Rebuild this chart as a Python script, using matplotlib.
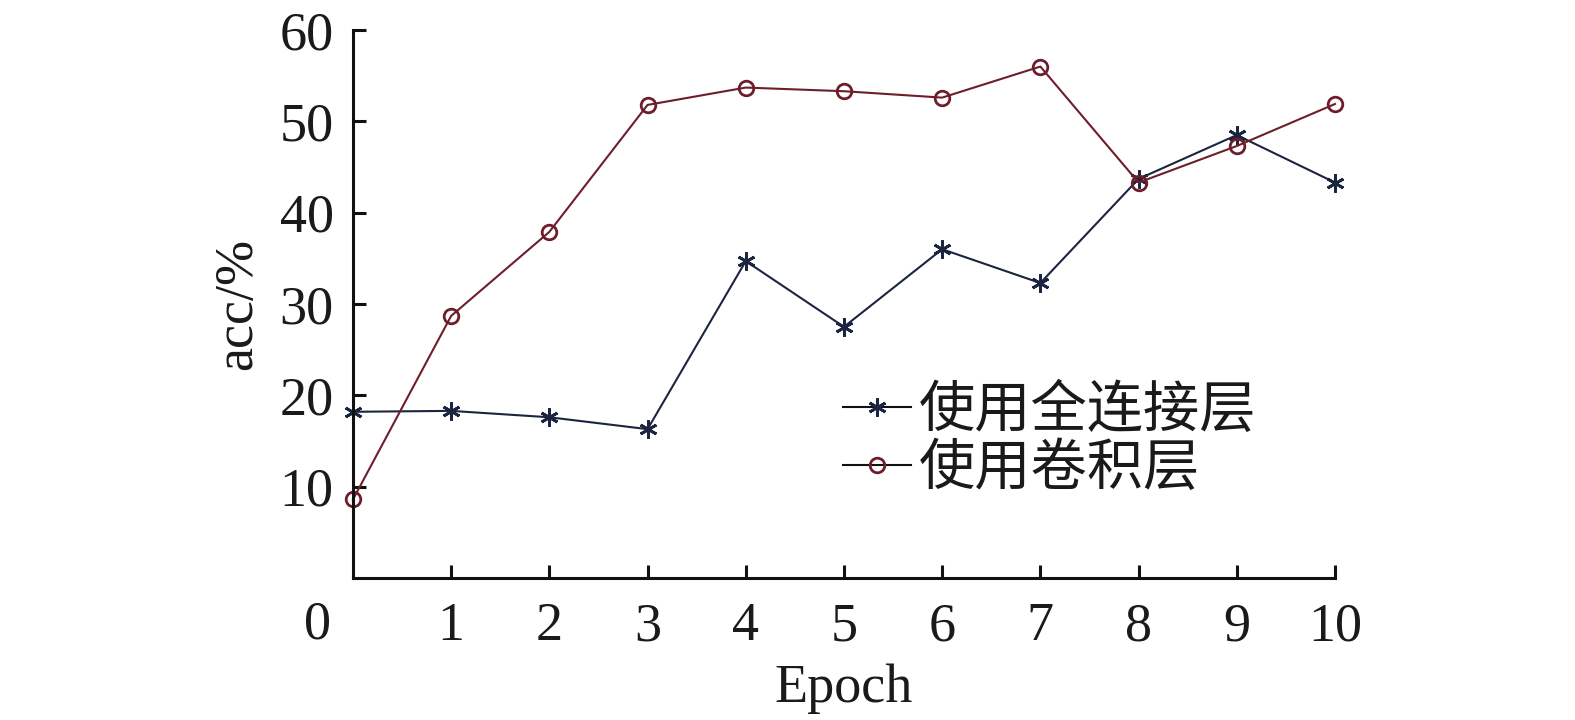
import matplotlib
matplotlib.use("Agg")
import matplotlib.pyplot as plt

epochs = [0, 1, 2, 3, 4, 5, 6, 7, 8, 9, 10]
fc_acc = [18.2, 18.3, 17.6, 16.3, 34.7, 27.5, 36.0, 32.3, 43.7, 48.5, 43.3]
conv_acc = [8.6, 28.7, 37.9, 51.8, 53.7, 53.3, 52.6, 56.0, 43.3, 47.3, 51.9]
labels = ["使用全连接层", "使用卷积层"]
xticks = [1, 2, 3, 4, 5, 6, 7, 8, 9, 10]
yticks = [10, 20, 30, 40, 50, 60]

serif = ["Liberation Serif", "DejaVu Serif"]
cjk = ["Noto Sans CJK SC", "DejaVu Sans"]
FS = 39

fig = plt.figure(figsize=(15.75, 7.2), dpi=100)
ax = fig.add_axes([0.2241, 0.1972, 0.8476 - 0.2241, 0.9583 - 0.1972])

c1 = "#1c2540"
c2 = "#6e1e2a"
ax.plot(epochs, fc_acc, color=c1, lw=1.5, marker=(6, 2, 0), ms=13, mew=2.0,
        label=labels[0], clip_on=False)
ax.plot(epochs, conv_acc, color=c2, lw=1.5, marker="o", ms=10.5, mfc="none",
        mec=c2, mew=2.0, label=labels[1], clip_on=False)

ax.set_xlim(0, 10)
ax.set_ylim(0, 60)
ax.set_xticks(xticks)
ax.set_yticks(yticks)
for s in ["top", "right"]:
    ax.spines[s].set_visible(False)
for s in ["left", "bottom"]:
    ax.spines[s].set_linewidth(2.2)
    ax.spines[s].set_color("#111111")
ax.tick_params(direction="in", length=9.5, width=2.2, color="#111111")
ax.tick_params(axis="x", pad=17)
ax.tick_params(axis="y", pad=14)
for lab in ax.get_xticklabels() + ax.get_yticklabels():
    lab.set_family(serif)
    lab.set_fontsize(FS)
    lab.set_color("#1a1a1a")

ax.annotate("0", xy=(0, 0), xycoords="data", xytext=(-35, -47),
            textcoords="offset pixels", ha="center", va="center",
            fontsize=FS, family=serif, color="#1a1a1a", annotation_clip=False)

ax.set_xlabel("Epoch", family=serif, fontsize=FS, color="#1a1a1a", labelpad=8)
ax.set_ylabel("acc/%", family=serif, fontsize=FS, color="#1a1a1a", labelpad=12)

leg = ax.legend(loc="upper left", bbox_to_anchor=(843 / 1575, 1 - 382 / 720),
                bbox_transform=fig.transFigure, frameon=False,
                prop={"family": cjk, "size": 40.5}, handlelength=1.2,
                handletextpad=0.15, labelspacing=0.02, borderpad=0, borderaxespad=0)
for t in leg.get_texts():
    t.set_color("#1a1a1a")
for h in leg.legend_handles:
    h.set_color("#111111")
leg.legend_handles[0].set_markeredgecolor(c1)
leg.legend_handles[1].set_markeredgecolor(c2)

fig.savefig("out.png", dpi=100)
